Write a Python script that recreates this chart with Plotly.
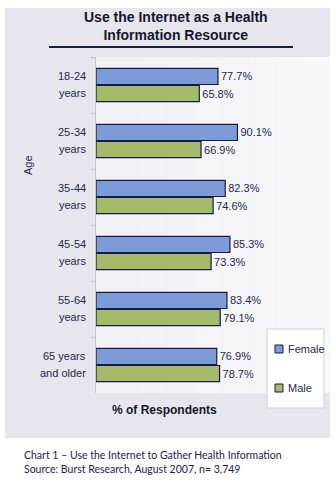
import plotly.graph_objects as go

# ---- data ----
categories = ["18-24 years", "25-34 years", "35-44 years", "45-54 years", "55-64 years", "65 years and older"]
label_line1 = ["18-24", "25-34", "35-44", "45-54", "55-64", "65 years"]
label_line2 = ["years", "years", "years", "years", "years", "and older"]
series_names = ["Female", "Male"]
female = [77.7, 90.1, 82.3, 85.3, 83.4, 76.9]
male = [65.8, 66.9, 74.6, 73.3, 79.1, 78.7]
series_values = [female, male]
series_colors = ["#7d9cd7", "#a5bb6b"]

title_text = "Use the Internet as a Health<br>Information Resource"
x_title = "% of Respondents"
y_title = "Age"
caption = "Chart 1 – Use the Internet to Gather Health Information<br>Source: Burst Research, August 2007, n= 3,749"

# ---- layout geometry ----
W, H = 335, 490
L, R, T, B = 96, 82, 57, 97
PW, PH = W - L - R, H - T - B
TXT = "#262852"
FONT = "Liberation Sans, Arial, sans-serif"


def px2x(px):
    return (px - L) / PW


def py2y(py):
    return (H - B - py) / PH


fig = go.Figure()
for name, vals, col in zip(series_names, series_values, series_colors):
    fig.add_trace(go.Bar(
        name=name, y=categories, x=vals, orientation="h",
        marker=dict(color=col, line=dict(color="#161a40", width=1.2)),
        text=[f"{v:.1f}%" for v in vals], textposition="outside",
        textfont=dict(family=FONT, size=11, color=TXT),
        cliponaxis=False, showlegend=False,
    ))

shapes = []
# panel background
shapes.append(dict(type="rect", xref="paper", yref="paper", layer="below",
                   x0=px2x(5), x1=px2x(330), y0=py2y(438), y1=py2y(8),
                   fillcolor="#e6e6ec", line=dict(width=0)))
# lighter gradient strips over plot area
n = 12
for i in range(n):
    a = 5 + i * (325 / n)
    b = 5 + (i + 1) * (325 / n)
    if b < L:
        continue
    a = max(a, L)
    t = i / (n - 1)
    c = int(240 + 8 * t)
    shapes.append(dict(type="rect", xref="paper", yref="paper", layer="below",
                       x0=px2x(a), x1=px2x(b), y0=py2y(393), y1=py2y(57),
                       fillcolor=f"rgb({c},{c},{min(c + 3, 255)})", line=dict(width=0)))
# title underline
shapes.append(dict(type="line", xref="paper", yref="paper",
                   x0=px2x(49), x1=px2x(293), y0=py2y(47), y1=py2y(47),
                   line=dict(color="#1a1c3c", width=2)))
# legend box
shapes.append(dict(type="rect", xref="paper", yref="paper",
                   x0=px2x(267), x1=px2x(324), y0=py2y(408), y1=py2y(329),
                   fillcolor="white", line=dict(color="#d0d0d8", width=1)))

annotations = []
# category labels (two lines each)
for cat, l1, l2 in zip(categories, label_line1, label_line2):
    annotations.append(dict(x=px2x(88), xref="paper", y=cat, yref="y", text=l1,
                            xanchor="right", yanchor="middle", yshift=9, showarrow=False,
                            font=dict(family=FONT, size=11, color=TXT)))
    annotations.append(dict(x=px2x(88), xref="paper", y=cat, yref="y", text=l2,
                            xanchor="right", yanchor="middle", yshift=-8, showarrow=False,
                            font=dict(family=FONT, size=11, color=TXT)))
# legend entries
leg_y = [349, 388]
for name, col, ly in zip(series_names, series_colors, leg_y):
    shapes.append(dict(type="rect", xref="paper", yref="paper",
                       x0=px2x(275), x1=px2x(283), y0=py2y(ly + 4), y1=py2y(ly - 4),
                       fillcolor=col, line=dict(color="#161a40", width=1)))
    annotations.append(dict(x=px2x(286), xref="paper", y=py2y(ly), yref="paper", text=name,
                            xanchor="left", yanchor="middle", showarrow=False,
                            font=dict(family=FONT, size=11, color=TXT)))
# title
annotations.append(dict(x=px2x(176), xref="paper", y=py2y(26), yref="paper", text=title_text,
                        xanchor="center", yanchor="middle", showarrow=False,
                        font=dict(family=FONT, size=14, color="#15172e", weight="bold")))
# axis titles
annotations.append(dict(x=px2x(164), xref="paper", y=py2y(410), yref="paper", text=x_title,
                        xanchor="center", yanchor="middle", showarrow=False,
                        font=dict(family=FONT, size=12, color="#15172e", weight="bold")))
annotations.append(dict(x=px2x(28), xref="paper", y=py2y(165), yref="paper", text=y_title,
                        xanchor="center", yanchor="middle", showarrow=False, textangle=-90,
                        font=dict(family=FONT, size=11, color=TXT)))
# caption
annotations.append(dict(x=px2x(22), xref="paper", y=py2y(462), yref="paper", text=caption,
                        xanchor="left", yanchor="middle", align="left", showarrow=False,
                        font=dict(family="Lato, Open Sans, sans-serif", size=10.5, color="#1e2150")))

fig.update_layout(
    width=W, height=H, margin=dict(l=L, r=R, t=T, b=B),
    paper_bgcolor="white", plot_bgcolor="rgba(0,0,0,0)",
    barmode="group", bargap=0.39, bargroupgap=0.06,
    shapes=shapes, annotations=annotations, showlegend=False,
    xaxis=dict(range=[0, 100], visible=False, fixedrange=True),
    yaxis=dict(type="category", categoryarray=categories, autorange="reversed",
               showticklabels=False, showline=True, linecolor="#c4c4cc", linewidth=1,
               ticks="outside", tickson="boundaries", ticklen=4, tickcolor="#c4c4cc",
               showgrid=False, zeroline=False),
)

fig.write_html("out.html")
